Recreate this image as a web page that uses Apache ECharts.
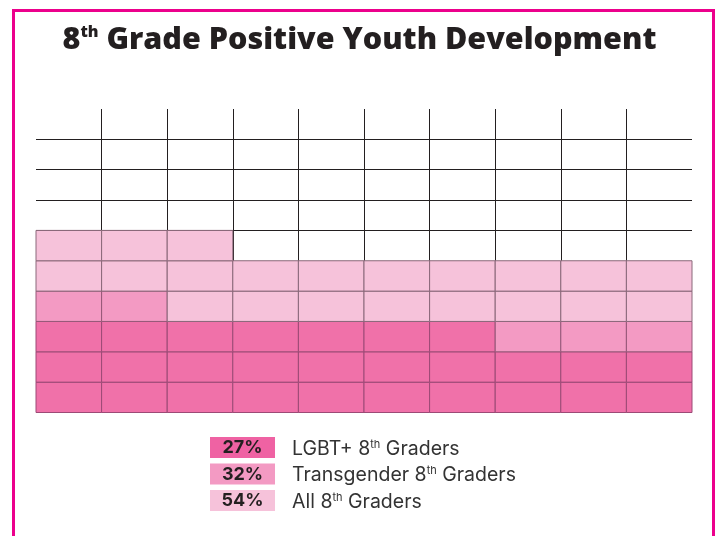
<!DOCTYPE html>
<html>
<head>
<meta charset="utf-8">
<script src="https://cdn.jsdelivr.net/npm/echarts@6/dist/echarts.min.js"></script>
<style>
html,body{margin:0;padding:0;background:#fff;}
#chart{width:719px;height:536px;}
</style>
</head>
<body>
<div id="chart"></div>
<script>
// ---- data ----
const titleMain = '8';
const titleSup = 'th';
const titleRest = ' Grade Positive Youth Development';
const categories = ['LGBT+ 8', 'Transgender 8', 'All 8'];
const categorySup = ['th', 'th', 'th'];
const categoryTail = [' Graders', ' Graders', ' Graders'];
const percents = [27, 32, 54];
const cellCounts = [27, 5, 21]; // cells shaded per group, as drawn in the 10x10 grid
const gridCols = 10;
const gridRows = 10;
const fillColors = ['#f071a9', '#f39ac3', '#f6c2da'];
const strokeColors = ['#9c4a76', '#955878', '#8a687a'];
const legendColors = ['#ef62a3', '#f39ac3', '#f6c2da'];

// build waffle cells from counts (bottom row first, left to right)
const cells = [];
let idx = 0;
cellCounts.forEach(function (n, g) {
  for (let k = 0; k < n; k++) {
    cells.push([idx % gridCols, Math.floor(idx / gridCols), g]);
    idx++;
  }
});

const chart = echarts.init(document.getElementById('chart'));

const graphics = [];
// frame
graphics.push({
  type: 'rect', z: 100,
  shape: { x: 13.5, y: 10.5, width: 700, height: 560 },
  style: { fill: 'none', stroke: '#ec008c', lineWidth: 3 }
});
// legend
const legTop = [437, 463.5, 490];
categories.forEach(function (c, i) {
  graphics.push({
    type: 'rect', z: 10,
    shape: { x: 210, y: legTop[i], width: 65, height: 21 },
    style: { fill: legendColors[i] }
  });
  graphics.push({
    type: 'text', z: 11,
    x: 242.5, y: legTop[i] + 11,
    style: {
      text: percents[i] + '%', align: 'center', verticalAlign: 'middle',
      font: 'bold 18px Inter, Roboto, sans-serif', fill: '#231f20'
    }
  });
  graphics.push({
    type: 'text', z: 11,
    x: 292, y: legTop[i] + 11,
    style: {
      text: '{a|' + c + '}{s|' + categorySup[i] + '}{a|' + categoryTail[i] + '}',
      verticalAlign: 'middle',
      rich: {
        a: { fontFamily: 'Inter, Roboto, sans-serif', fontSize: 19.5, fill: '#333', lineHeight: 22, verticalAlign: 'bottom' },
        s: { fontFamily: 'Inter, Roboto, sans-serif', fontSize: 11, fill: '#333', lineHeight: 12, verticalAlign: 'top', padding: [2, 0, 0, 0] }
      }
    }
  });
});

chart.setOption({
  animation: false,
  title: {
    left: 'center', top: 15,
    text: '{a|' + titleMain + '}{s|' + titleSup + '}{a|' + titleRest + '}',
    textStyle: {
      rich: {
        a: { fontFamily: '"Open Sans", sans-serif', fontWeight: 800, fontSize: 30.5, color: '#231f20', lineHeight: 36, verticalAlign: 'bottom' },
        s: { fontFamily: '"Open Sans", sans-serif', fontWeight: 800, fontSize: 16, color: '#231f20', lineHeight: 17, verticalAlign: 'top', padding: [4, 0, 0, 0] }
      }
    }
  },
  grid: { left: 36, right: 27, top: 109, bottom: 123.5, containLabel: false },
  xAxis: {
    type: 'value', min: 0, max: gridCols, interval: 1,
    axisLine: { show: false }, axisTick: { show: false }, axisLabel: { show: false },
    splitLine: { show: true, showMinLine: false, showMaxLine: false, lineStyle: { color: '#231f20', width: 1 } }
  },
  yAxis: {
    type: 'value', min: 0, max: gridRows, interval: 1,
    axisLine: { show: false }, axisTick: { show: false }, axisLabel: { show: false },
    splitLine: { show: true, showMinLine: false, showMaxLine: false, lineStyle: { color: '#231f20', width: 1 } }
  },
  series: [{
    type: 'custom',
    data: cells,
    renderItem: function (params, api) {
      const c = api.value(0), r = api.value(1), g = api.value(2);
      const p0 = api.coord([c, r]);
      const p1 = api.coord([c + 1, r + 1]);
      return {
        type: 'rect',
        shape: { x: p0[0], y: p1[1], width: p1[0] - p0[0], height: p0[1] - p1[1] },
        style: { fill: fillColors[g], stroke: strokeColors[g], lineWidth: 1 }
      };
    }
  }],
  graphic: graphics
});
</script>
</body>
</html>
